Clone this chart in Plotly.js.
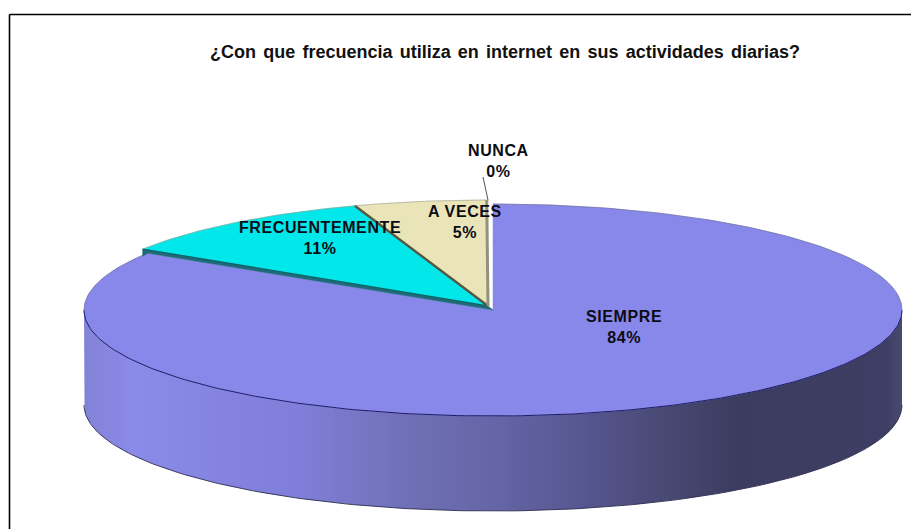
<!DOCTYPE html>
<html>
<head>
<meta charset="utf-8">
<script src="https://cdn.plot.ly/plotly-3.0.1.min.js"></script>
<style>
html,body{margin:0;padding:0;background:#fff}
#c{width:911px;height:529px}
.annotation-text{letter-spacing:.6px}
.gtitle{word-spacing:2.2px}
</style>
</head>
<body>
<div id="c"></div>
<script>
// Data (percent shares; labels show them rounded)
const categories = ["SIEMPRE", "FRECUENTEMENTE", "A VECES", "NUNCA"];
const shares = [84.0, 10.72, 5.23, 0.05];
const sliceColors = ["#8888ea", "#02e8ea", "#e9e5b9", "#f4f4ee"];
const titleText = "¿Con que frecuencia utiliza en internet en sus actividades diarias?";

// Projection of the tilted pie onto the axes
const cx = 493, cy = 310, rx = 409, ry = 106, depth = 95;
const burstX = -5, burstY = -4;
const FONT = "Liberation Sans, Arial, sans-serif";

function pt(deg, ox, oy) {
  const a = deg * Math.PI / 180;
  return [cx + (ox || 0) + rx * Math.sin(a), cy + (oy || 0) - ry * Math.cos(a)];
}
function arc(d0, d1, ox, oy) {
  const out = [], n = Math.max(2, Math.ceil(Math.abs(d1 - d0)));
  for (let i = 0; i <= n; i++) out.push(pt(d0 + (d1 - d0) * i / n, ox, oy));
  return out;
}
function poly(points, extra) {
  return Object.assign({
    x: points.map(p => p[0]), y: points.map(p => p[1]),
    type: "scatter", mode: "lines", hoverinfo: "skip", showlegend: false
  }, extra);
}

const total = shares.reduce((a, b) => a + b, 0);
const bounds = [0];
shares.forEach(v => bounds.push(bounds[bounds.length - 1] + v / total * 360));

const traces = [];

// outer wall of the large slice
const wallTop = arc(90, 270);
const wallBot = arc(270, 90, 0, depth);
traces.push(poly(wallTop.concat(wallBot, [wallTop[0]]), {
  fill: "toself",
  fillgradient: { type: "horizontal", colorscale: [
    [0, "#8282d6"], [0.06, "#8a8ae8"], [0.26, "#7f7fd9"], [0.41, "#6e6eb3"],
    [0.51, "#6464a6"], [0.61, "#565690"], [0.73, "#46466f"], [0.80, "#3c3c60"],
    [0.98, "#3e3e64"], [1, "#4a4a70"] ] },
  line: { width: 0, color: "rgba(0,0,0,0)" }
}));
traces.push(poly(arc(90, 270, 0, depth), { line: { color: "#2c2c50", width: 0.9 } }));

// large slice top
traces.push(poly([[cx, cy]].concat(arc(bounds[0], bounds[1]), [[cx, cy]]), {
  fill: "toself", fillcolor: sliceColors[0], line: { color: sliceColors[0], width: 0.5 }
}));
traces.push(poly(arc(90, 270), { line: { color: "#1c1c66", width: 1 } }));
traces.push(poly(arc(0, 90), { line: { color: "#6a6a90", width: 0.6 } }));
traces.push(poly(arc(270, bounds[1]), { line: { color: "#6a6a90", width: 0.6 } }));

// cut wall exposed by pulling out the small slices
const cutA = pt(bounds[1], burstX, burstY);
const cutB = pt(bounds[1]);
traces.push(poly([[cx + burstX, cy + burstY], cutA, [cutA[0], cutA[1] + 7], cutB, [cx, cy], [cx + burstX, cy + burstY]], {
  fill: "toself", fillcolor: "#1d6c78", line: { color: "#1d6c78", width: 0.5 }
}));

// small slices
for (let i = 3; i >= 1; i--) {
  const c = [cx + burstX, cy + burstY];
  traces.push(poly([c].concat(arc(bounds[i], bounds[i + 1], burstX, burstY), [c]), {
    fill: "toself", fillcolor: sliceColors[i], line: { color: sliceColors[i], width: 0.5 }
  }));
}
// separators and rims of the small slices
const apex = [cx + burstX, cy + burstY];
traces.push(poly([apex, pt(bounds[2], burstX, burstY)], { line: { color: "#55583f", width: 2.4 } }));
traces.push(poly([apex, pt(bounds[1], burstX, burstY)], { line: { color: "#16606a", width: 1.6 } }));
traces.push(poly([apex, pt(bounds[3], burstX, burstY)], { line: { color: "#92927c", width: 3 } }));
traces.push(poly(arc(bounds[1], bounds[4], burstX, burstY), { line: { color: "#9a9a88", width: 0.6 } }));

// leader line of the last label
traces.push(poly([[483, 177], pt(360, burstX, burstY)], { line: { color: "#555555", width: 1 } }));

function label(i, x, y) {
  return { x: x, y: y, xref: "x", yref: "y", showarrow: false, align: "center",
    text: "<b>" + categories[i] + "</b><br><b>" + Math.round(shares[i]) + "%</b>",
    font: { family: FONT, size: 16, color: "#0c0c14" } };
}

const layout = {
  width: 911, height: 529,
  margin: { l: 0, r: 0, t: 0, b: 0 },
  paper_bgcolor: "#ffffff", plot_bgcolor: "#ffffff",
  showlegend: false,
  title: { text: "<b>" + titleText + "</b>", x: 505 / 911, xanchor: "center",
    y: 1 - 52 / 529, yanchor: "middle",
    font: { family: FONT, size: 18, color: "#111111" } },
  xaxis: { range: [0, 911], visible: false, fixedrange: true },
  yaxis: { range: [529, 0], visible: false, fixedrange: true },
  shapes: [
    { type: "line", xref: "x", yref: "y", x0: 9.5, x1: 911, y0: 14.5, y1: 14.5, line: { color: "#000", width: 1.6 } },
    { type: "line", xref: "x", yref: "y", x0: 9.5, x1: 9.5, y0: 14.5, y1: 529, line: { color: "#000", width: 1.6 } }
  ],
  annotations: [
    label(0, 624, 327),
    label(1, 320, 238),
    label(2, 465, 222),
    label(3, 498, 161)
  ]
};

Plotly.newPlot("c", traces, layout, { displayModeBar: false, staticPlot: true });
</script>
</body>
</html>
